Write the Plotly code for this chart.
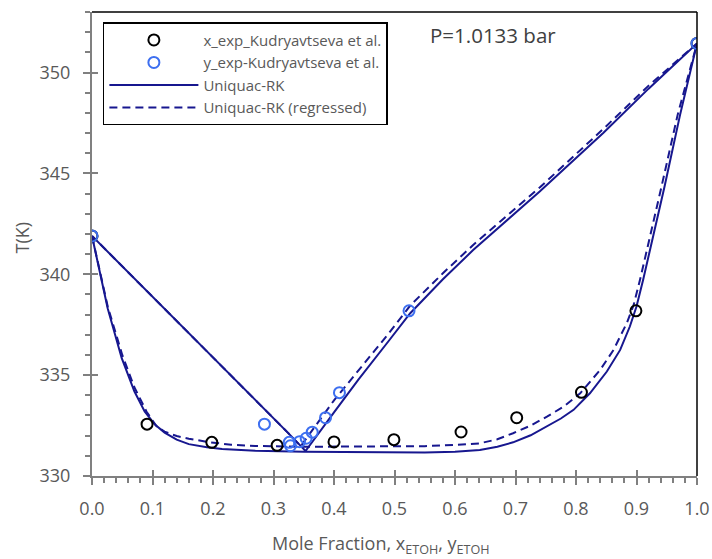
import plotly.graph_objects as go

# ---------------- data ----------------
# experimental liquid (x) and vapour (y) data, Kudryavtseva et al.
x_exp_x = [0.0, 0.091, 0.198, 0.306, 0.400, 0.499, 0.610, 0.702, 0.809, 0.899, 1.0]
x_exp_T = [341.90, 332.57, 331.67, 331.52, 331.69, 331.80, 332.18, 332.89, 334.15, 338.19, 351.44]

y_exp_y = [0.0, 0.285, 0.326, 0.328, 0.343, 0.354, 0.364, 0.386, 0.409, 0.524, 1.0]
y_exp_T = [341.90, 332.57, 331.67, 331.50, 331.70, 331.87, 332.17, 332.89, 334.13, 338.19, 351.44]

# Uniquac-RK: bubble curve (T vs x) and dew curve (T vs y)
rk_bub_x = [0.0, 0.026, 0.049, 0.070, 0.087, 0.104, 0.120, 0.140, 0.160, 0.190, 0.215, 0.270,
            0.350, 0.450, 0.550, 0.600, 0.641, 0.670, 0.696, 0.725, 0.752, 0.775, 0.796, 0.823,
            0.851, 0.873, 0.889, 0.900, 0.911, 0.928, 0.946, 0.972, 1.0]
rk_bub_T = [341.90, 338.30, 335.85, 334.20, 333.20, 332.55, 332.15, 331.80, 331.58, 331.42, 331.34, 331.25,
            331.20, 331.17, 331.17, 331.20, 331.29, 331.45, 331.67, 332.02, 332.45, 332.85, 333.28, 334.10,
            335.18, 336.25, 337.41, 338.40, 339.73, 341.90, 344.30, 347.90, 351.44]
rk_dew_y = [0.0, 0.160, 0.324, 0.353, 0.400, 0.440, 0.490, 0.526, 0.580, 0.630,
            0.740, 0.845, 0.920, 1.0]
rk_dew_T = [341.90, 337.08, 332.14, 331.24, 333.15, 334.76, 336.68, 338.07, 339.75, 341.20,
            344.10, 347.00, 349.20, 351.44]

# Uniquac-RK (regressed)
rkr_bub_x = [0.0, 0.026, 0.050, 0.070, 0.090, 0.107, 0.120, 0.140, 0.160, 0.195, 0.230, 0.270,
             0.350, 0.450, 0.550, 0.600, 0.641, 0.670, 0.696, 0.725, 0.752, 0.780, 0.807, 0.840,
             0.862, 0.884, 0.895, 0.906, 0.923, 0.941, 0.968, 1.0]
rkr_bub_T = [341.90, 338.40, 336.00, 334.40, 333.20, 332.45, 332.20, 331.98, 331.85, 331.67, 331.55, 331.49,
             331.45, 331.45, 331.48, 331.54, 331.62, 331.82, 332.12, 332.50, 332.94, 333.45, 334.10, 335.26,
             336.25, 337.58, 338.45, 339.75, 341.90, 344.30, 347.90, 351.44]
rkr_dew_y = [0.0, 0.160, 0.324, 0.345, 0.360, 0.400, 0.440, 0.490, 0.526, 0.580,
             0.630, 0.740, 0.845, 0.920, 1.0]
rkr_dew_T = [341.90, 337.08, 332.14, 331.47, 332.10, 333.75, 335.20, 337.05, 338.45, 340.05,
             341.45, 344.30, 347.20, 349.35, 351.44]

x_ticks = [0.0, 0.1, 0.2, 0.3, 0.4, 0.5, 0.6, 0.7, 0.8, 0.9, 1.0]
y_ticks = [330, 335, 340, 345, 350]

# ---------------- styles ----------------
FONT = "Open Sans"
LINE_COLOR = "#17178F"
GRAY = "#808080"
TXT = "#595959"

fig = go.Figure()

# model curves: bubble (x ascending) then dew (y descending) in one trace
fig.add_trace(go.Scatter(
    x=rk_bub_x + rk_dew_y[::-1], y=rk_bub_T + rk_dew_T[::-1],
    mode="lines", name="Uniquac-RK", legendrank=3,
    line=dict(color=LINE_COLOR, width=2)))
fig.add_trace(go.Scatter(
    x=rkr_bub_x + rkr_dew_y[::-1], y=rkr_bub_T + rkr_dew_T[::-1],
    mode="lines", name="Uniquac-RK (regressed)", legendrank=4,
    line=dict(color=LINE_COLOR, width=2, dash="8px,5px")))

fig.add_trace(go.Scatter(
    x=x_exp_x, y=x_exp_T, mode="markers", name="x_exp_Kudryavtseva et al.", legendrank=1,
    marker=dict(symbol="circle-open", size=11, color="black", line=dict(width=2))))
fig.add_trace(go.Scatter(
    x=y_exp_y, y=y_exp_T, mode="markers", name="y_exp-Kudryavtseva et al.", legendrank=2,
    marker=dict(symbol="circle-open", size=11, color="#3D6FF0", line=dict(width=2))))

# empty trace to activate overlay axes used for the inner half of major ticks
fig.add_trace(go.Scatter(x=[], y=[], xaxis="x2", yaxis="y2", showlegend=False, hoverinfo="skip"))

fig.update_layout(
    width=712, height=559,
    margin=dict(l=92, r=15, t=12, b=83, autoexpand=False),
    paper_bgcolor="white", plot_bgcolor="white",
    font=dict(family=FONT, color=TXT, size=18),
    showlegend=True,
    legend=dict(x=0.018, y=0.978, xanchor="left", yanchor="top",
                bgcolor="white", bordercolor="black", borderwidth=1.5,
                font=dict(family=FONT, size=15, color=TXT),
                tracegroupgap=0, itemwidth=89),
    xaxis=dict(range=[0, 1], tickvals=x_ticks, ticktext=[f"{v:.1f}" for v in x_ticks],
               showgrid=False, zeroline=False, automargin=False,
               showline=True, linecolor=GRAY, linewidth=2,
               ticks="outside", ticklen=7, tickwidth=1.5, tickcolor=GRAY,
               ticklabelstandoff=8,
               tickfont=dict(family=FONT, size=18, color=TXT),
               minor=dict(dtick=0.02, ticks="outside", ticklen=5, tickwidth=1.5, tickcolor=GRAY, showgrid=False)),
    yaxis=dict(range=[330, 353], tickvals=y_ticks, ticktext=[str(v) for v in y_ticks],
               showgrid=False, zeroline=False, automargin=False,
               showline=True, linecolor=GRAY, linewidth=2,
               ticks="outside", ticklen=7, tickwidth=1.5, tickcolor=GRAY,
               ticklabelstandoff=9,
               tickfont=dict(family=FONT, size=18, color=TXT),
               minor=dict(dtick=1, ticks="outside", ticklen=5, tickwidth=1.5, tickcolor=GRAY, showgrid=False)),
    xaxis2=dict(range=[0, 1], overlaying="x", anchor="y", side="bottom", automargin=False,
                tickvals=x_ticks, showticklabels=False, showgrid=False, zeroline=False, showline=False,
                ticks="inside", ticklen=6, tickwidth=1.5, tickcolor=GRAY),
    yaxis2=dict(range=[330, 353], overlaying="y", anchor="x", side="left", automargin=False,
                tickvals=y_ticks, showticklabels=False, showgrid=False, zeroline=False, showline=False,
                ticks="inside", ticklen=6, tickwidth=1.5, tickcolor=GRAY),
    shapes=[
        dict(type="line", xref="paper", yref="paper", x0=0, x1=1, y0=1, y1=1,
             line=dict(color="black", width=1.5)),
        dict(type="line", xref="paper", yref="paper", x0=1, x1=1, y0=0, y1=1,
             line=dict(color="black", width=1.5)),
    ],
    annotations=[
        dict(text="P=1.0133 bar", xref="paper", yref="paper", x=0.555, y=0.950,
             xanchor="left", yanchor="middle", showarrow=False,
             font=dict(family=FONT, size=20.5, color="#404040")),
        dict(text="Mole Fraction, x<sub>ETOH</sub>, y<sub>ETOH</sub>", xref="paper", yref="paper",
             x=0.478, y=-0.147, xanchor="center", yanchor="middle", showarrow=False,
             font=dict(family=FONT, size=18, color=TXT)),
        dict(text="T(K)", xref="paper", yref="paper", x=-0.115, y=0.515, textangle=-90,
             xanchor="center", yanchor="middle", showarrow=False,
             font=dict(family=FONT, size=18, color=TXT)),
    ],
)

fig.write_html("out.html", config={"displayModeBar": False},
               post_script="document.body.style.margin='0px';")
